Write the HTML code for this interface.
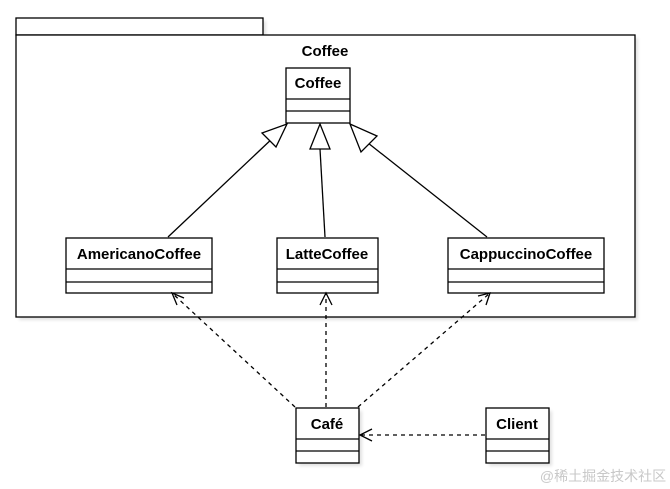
<!DOCTYPE html>
<html><head><meta charset="utf-8"><style>
html,body{margin:0;padding:0;background:#fff;}
svg{display:block;}
text{font-family:"Liberation Sans",Arial,sans-serif;font-size:15px;font-weight:bold;fill:#000;}
</style></head><body>
<svg width="670" height="489" viewBox="0 0 670 489" xmlns="http://www.w3.org/2000/svg">
<defs><filter id="sh" x="-10%" y="-10%" width="130%" height="130%"><feOffset dx="3" dy="3"/><feGaussianBlur stdDeviation="1.5"/><feComponentTransfer><feFuncA type="linear" slope="0.12"/></feComponentTransfer></filter></defs>
<g fill="#000" filter="url(#sh)">
<rect x="16" y="18" width="247" height="17"/><rect x="16" y="35" width="619" height="282"/>
<rect x="286" y="68" width="64" height="55"/>
<rect x="66" y="238" width="146" height="55"/><rect x="277" y="238" width="101" height="55"/><rect x="448" y="238" width="156" height="55"/>
<rect x="296" y="408" width="63" height="55"/><rect x="486" y="408" width="63" height="55"/>
</g>
<g fill="#fff" stroke="#000" stroke-width="1.3">
<rect x="16" y="18" width="247" height="17"/><rect x="16" y="35" width="619" height="282"/>
</g>
<text x="325" y="56" text-anchor="middle">Coffee</text>
<g fill="#fff" stroke="#000" stroke-width="1.3">
<rect x="286" y="68" width="64" height="55"/><line x1="286" y1="99" x2="350" y2="99"/><line x1="286" y1="111" x2="350" y2="111"/>
<rect x="66" y="238" width="146" height="55"/><line x1="66" y1="269" x2="212" y2="269"/><line x1="66" y1="282" x2="212" y2="282"/>
<rect x="277" y="238" width="101" height="55"/><line x1="277" y1="269" x2="378" y2="269"/><line x1="277" y1="282" x2="378" y2="282"/>
<rect x="448" y="238" width="156" height="55"/><line x1="448" y1="269" x2="604" y2="269"/><line x1="448" y1="282" x2="604" y2="282"/>
<rect x="296" y="408" width="63" height="55"/><line x1="296" y1="439" x2="359" y2="439"/><line x1="296" y1="451" x2="359" y2="451"/>
<rect x="486" y="408" width="63" height="55"/><line x1="486" y1="439" x2="549" y2="439"/><line x1="486" y1="451" x2="549" y2="451"/>
</g>
<text x="318" y="88" text-anchor="middle">Coffee</text>
<text x="139" y="259" text-anchor="middle">AmericanoCoffee</text>
<text x="327" y="259" text-anchor="middle">LatteCoffee</text>
<text x="526" y="259" text-anchor="middle">CappuccinoCoffee</text>
<text x="327" y="429" text-anchor="middle">Café</text>
<text x="517" y="429" text-anchor="middle">Client</text>
<g stroke="#000" stroke-width="1.3" fill="none">
<line x1="168" y1="237" x2="275" y2="136"/>
<polygon points="287,124 276,147 262,133" fill="#fff"/>
<line x1="325" y1="237" x2="320" y2="149"/>
<polygon points="320,124 330,149 310,149" fill="#fff"/>
<line x1="487" y1="237" x2="363" y2="139"/>
<polygon points="350,124 377,136 361,152" fill="#fff"/>
<g stroke-dasharray="4,4">
<line x1="295" y1="407" x2="172" y2="293"/>
<line x1="326" y1="407" x2="326" y2="293"/>
<line x1="358" y1="407" x2="490" y2="293"/>
<line x1="485" y1="435" x2="360" y2="435"/>
</g>
<polyline points="184,298 172,293 177,305"/>
<polyline points="320,305 326,293 332,305"/>
<polyline points="478,296 490,293 486,305"/>
<polyline points="372,429 360,435 372,441"/>
</g>
<text x="603" y="481" text-anchor="middle" style="font-weight:normal;font-size:14px;fill:#c8c8c8;font-family:'Liberation Sans','Noto Sans CJK SC',sans-serif">@稀土掘金技术社区</text>
</svg>
</body></html>
